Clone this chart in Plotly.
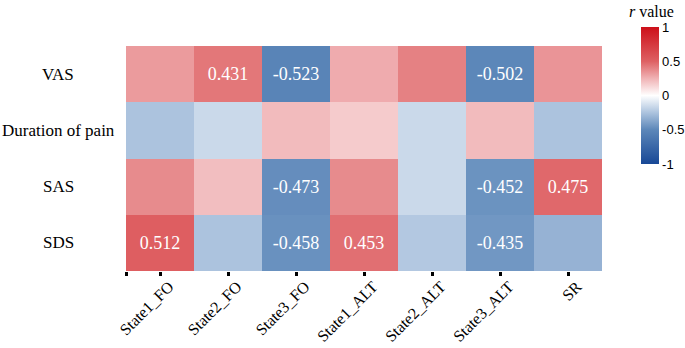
import plotly.graph_objects as go

# ---------------- data ----------------
columns = ["State1_FO", "State2_FO", "State3_FO", "State1_ALT", "State2_ALT", "State3_ALT", "SR"]
rows = ["VAS", "Duration of pain", "SAS", "SDS"]

vas = [0.32, 0.431, -0.523, 0.27, 0.40, -0.502, 0.34]
duration = [-0.25, -0.16, 0.22, 0.17, -0.16, 0.22, -0.25]
sas = [0.37, 0.21, -0.473, 0.37, -0.16, -0.452, 0.475]
sds = [0.512, -0.25, -0.458, 0.453, -0.23, -0.435, -0.32]

# which cells carry a printed value
vas_sig = [0, 1, 1, 0, 0, 1, 0]
duration_sig = [0, 0, 0, 0, 0, 0, 0]
sas_sig = [0, 0, 1, 0, 0, 1, 1]
sds_sig = [1, 0, 1, 1, 0, 1, 0]

cbar_ticks = [1, 0.5, 0, -0.5, -1]
cbar_ticktext = ["1", "0.5", "0", "-0.5", "-1"]
cbar_title = "<i>r</i> value"

z = [vas, duration, sas, sds]
sig = [vas_sig, duration_sig, sas_sig, sds_sig]
text = [[(f"{v:.3f}" if s else "") for v, s in zip(zr, sr)] for zr, sr in zip(z, sig)]

xs = list(range(len(columns)))
ys = list(range(len(rows)))

colorscale = [
    [0.0, "rgb(24,72,150)"],
    [0.25, "rgb(92,135,185)"],
    [0.375, "rgb(172,195,222)"],
    [0.5, "rgb(255,255,255)"],
    [0.625, "rgb(240,178,180)"],
    [0.75, "rgb(222,96,99)"],
    [1.0, "rgb(205,15,25)"],
]

W, H = 685, 348
L, R, T, B = 126, 83, 46, 77
PW, PH = W - L - R, H - T - B
serif = "Liberation Serif, Times New Roman, serif"
sans = "Liberation Sans, Arial, sans-serif"

fig = go.Figure(
    go.Heatmap(
        z=z, x=xs, y=ys,
        zmin=-1, zmax=1,
        colorscale=colorscale,
        text=text,
        texttemplate="%{text}",
        textfont=dict(family=serif, size=18, color="white"),
        hoverinfo="skip",
        colorbar=dict(
            x=(641 - L) / PW, xanchor="left", xpad=0,
            y=(H - B - 27) / PH, yanchor="top", ypad=0,
            thickness=18, thicknessmode="pixels",
            len=137, lenmode="pixels",
            outlinewidth=0,
            tickvals=cbar_ticks, ticktext=cbar_ticktext,
            ticks="", ticklen=0,
            tickfont=dict(family=sans, size=13, color="black"),
        ),
    )
)

# colorbar title, centred above the bar
fig.add_annotation(
    x=(651 - L) / PW, xref="paper", y=(H - B - 11) / PH, yref="paper",
    text=cbar_title, showarrow=False, xanchor="center", yanchor="middle",
    font=dict(family=serif, size=16, color="black"),
)

# row labels (centered, as in the reference)
for yi, name in zip(ys, rows):
    fig.add_annotation(
        x=(58 - L) / PW, xref="paper", y=yi, yref="y",
        text=name, showarrow=False, xanchor="center", yanchor="middle",
        font=dict(family=serif, size=17, color="black"),
    )

fig.update_layout(
    width=W, height=H,
    margin=dict(l=L, r=R, t=T, b=B, pad=0, autoexpand=False),
    paper_bgcolor="white", plot_bgcolor="white",
    showlegend=False,
)
fig.update_xaxes(
    range=[-0.5, len(columns) - 0.5],
    tickvals=[-0.5] + xs, ticktext=[""] + columns,
    tickangle=-45,
    ticks="outside", ticklen=4, tickwidth=3, tickcolor="black",
    ticklabelshift=9, ticklabelstandoff=-5,
    tickfont=dict(family=serif, size=16, color="black"),
    showgrid=False, zeroline=False, showline=False,
)
fig.update_yaxes(
    range=[len(rows) - 0.5, -0.5],
    showticklabels=False, ticks="",
    showgrid=False, zeroline=False, showline=False,
)

fig.write_html("out.html", config={"displayModeBar": False},
               post_script="document.body.style.margin='0';")
